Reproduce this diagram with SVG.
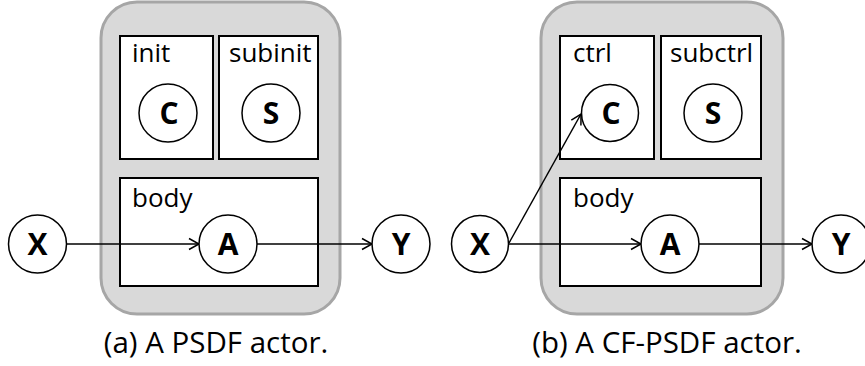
<svg xmlns="http://www.w3.org/2000/svg" width="865" height="366" viewBox="0 0 865 366">
<style>
.actor{fill:#d9d9d9;stroke:#a6a6a6;stroke-width:3}
.box{fill:#fff;stroke:#000;stroke-width:2}
.node{fill:#fff;stroke:#000;stroke-width:1.5}
.lbl{font-family:"Open Sans","Liberation Sans",sans-serif;font-size:26px;fill:#000}
.ltr{font-family:"Open Sans","Liberation Sans",sans-serif;font-size:30px;font-weight:bold;fill:#000;text-anchor:middle}
.cap{font-family:"Open Sans","Liberation Sans",sans-serif;font-size:29.5px;fill:#000;text-anchor:middle}
.edge{fill:none;stroke:#000;stroke-width:1.5}
</style>
<defs>
<marker id="arr" markerUnits="userSpaceOnUse" markerWidth="14" markerHeight="14" refX="12" refY="7" orient="auto">
<path d="M2,1.5 L12,7 L2,12.5" fill="none" stroke="#000" stroke-width="1.5"/>
</marker>
</defs>
<rect width="865" height="366" fill="#fff"/>

<g id="actorA">
<rect class="actor" x="101" y="2" width="239" height="312" rx="36"/>
</g>
<g id="initA">
<rect class="box" x="120" y="36" width="93" height="123"/>
<text class="lbl" x="132" y="62">init</text>
</g>
<g id="subinitA">
<rect class="box" x="219" y="36" width="99" height="123"/>
<text class="lbl" x="229" y="62">subinit</text>
</g>
<g id="bodyA">
<rect class="box" x="120" y="178" width="198" height="108"/>
<text class="lbl" x="132" y="207">body</text>
</g>

<g id="actorB">
<rect class="actor" x="541" y="2" width="242" height="312" rx="36"/>
</g>
<g id="ctrlB">
<rect class="box" x="560" y="36" width="94" height="123"/>
<text class="lbl" x="573" y="62">ctrl</text>
</g>
<g id="subctrlB">
<rect class="box" x="661" y="36" width="100" height="123"/>
<text class="lbl" x="670" y="62">subctrl</text>
</g>
<g id="bodyB">
<rect class="box" x="560" y="178" width="201" height="108"/>
<text class="lbl" x="573" y="207">body</text>
</g>

<g id="connectors">
<line class="edge" x1="67" y1="244" x2="199" y2="244" marker-end="url(#arr)"/>
<line class="edge" x1="257" y1="244" x2="372" y2="244" marker-end="url(#arr)"/>
<line class="edge" x1="509" y1="243" x2="581" y2="114" marker-end="url(#arr)"/>
<line class="edge" x1="509" y1="244" x2="641" y2="244" marker-end="url(#arr)"/>
<line class="edge" x1="698" y1="244" x2="812" y2="244" marker-end="url(#arr)"/>
</g>

<g id="nodeCA"><circle class="node" cx="168" cy="113" r="29"/><text class="ltr" x="169" y="124">C</text></g>
<g id="nodeSA"><circle class="node" cx="271" cy="113" r="29"/><text class="ltr" x="271" y="124">S</text></g>
<g id="nodeAA"><circle class="node" cx="228" cy="244" r="29"/><text class="ltr" x="228" y="255">A</text></g>
<g id="nodeXA"><circle class="node" cx="37.5" cy="244" r="29"/><text class="ltr" x="37.5" y="255">X</text></g>
<g id="nodeYA"><circle class="node" cx="401" cy="244" r="29"/><text class="ltr" x="401" y="255">Y</text></g>

<g id="nodeCB"><circle class="node" cx="610" cy="113" r="28.5"/><text class="ltr" x="611" y="124">C</text></g>
<g id="nodeSB"><circle class="node" cx="713" cy="113" r="29"/><text class="ltr" x="713" y="124">S</text></g>
<g id="nodeAB"><circle class="node" cx="670" cy="244" r="29"/><text class="ltr" x="670" y="255">A</text></g>
<g id="nodeXB"><circle class="node" cx="480" cy="244" r="28.5"/><text class="ltr" x="480" y="255">X</text></g>
<g id="nodeYB"><circle class="node" cx="841" cy="244" r="29"/><text class="ltr" x="841" y="255">Y</text></g>

<g id="captions">
<text class="cap" x="216" y="353">(a) A PSDF actor.</text>
<text class="cap" x="667" y="353">(b) A CF-PSDF actor.</text>
</g>
</svg>
